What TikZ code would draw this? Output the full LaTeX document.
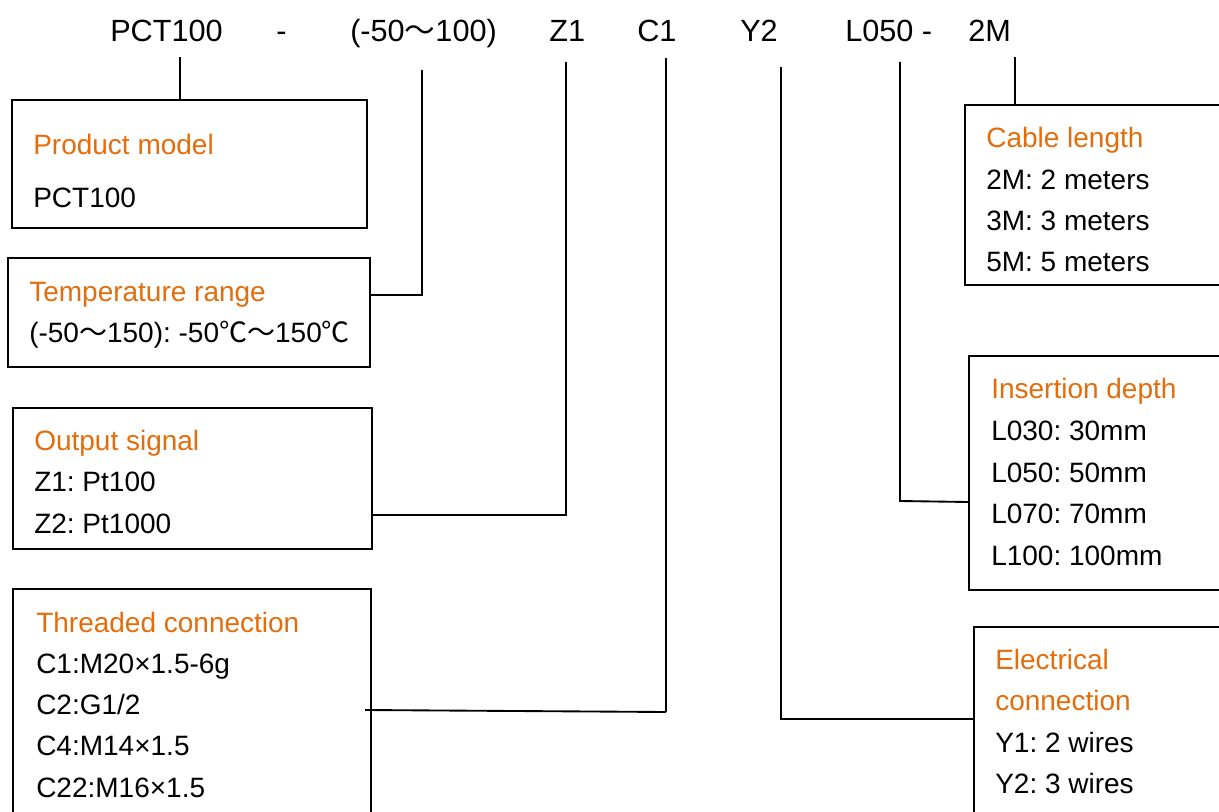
\documentclass[tikz,border=0pt]{standalone}
\usepackage{fontspec}
\setmainfont{Liberation Sans}
\newfontfamily\cjk{Noto Sans CJK SC}
\usetikzlibrary{fit}
\definecolor{headorange}{RGB}{228,108,10}
\newcommand{\tld}{{\cjk ～}}
\newcommand{\degc}{{\cjk ℃}}
\frenchspacing
\tikzset{
  code/.style={anchor=base west,inner sep=0pt,font=\fontsize{23}{28}\selectfont},
  box/.style={draw,line width=1.5pt,inner sep=0pt},
  head/.style={anchor=base west,inner sep=0pt,text=headorange,font=\fontsize{21}{25}\selectfont},
  item/.style={anchor=base west,inner sep=0pt,font=\fontsize{21}{25}\selectfont},
  lead/.style={line width=2.2pt},
  thinlead/.style={line width=1.4pt}
}
\begin{document}
\begin{tikzpicture}[x=0.75pt,y=-0.75pt]
  \useasboundingbox (0,0) rectangle (1219,812);
  \clip (0,0) rectangle (1219,812);
  % order code
  \node[code] (tModel)  at (110,42) {PCT100};
  \node[code] (tDash)   at (276,42) {-};
  \node[code] (tRange)  at (350,42) {(-50\tld 100)};
  \node[code] (tSignal) at (549,42) {Z1};
  \node[code] (tThread) at (637,42) {C1};
  \node[code] (tElec)   at (740,42) {Y2};
  \node[code] (tDepth)  at (845,42) {L050 -};
  \node[code] (tCable)  at (968,42) {2M};
  % boxes
  \node[box,fit={(12,100) (367,228)}]   (model)  {};
  \node[box,fit={(8,258) (370,367)}]    (range)  {};
  \node[box,fit={(13,408) (372,549)}]   (signal) {};
  \node[box,fit={(13,589) (371,830)}]   (thread) {};
  \node[box,fit={(965,105) (1240,285)}] (cable)  {};
  \node[box,fit={(969,356) (1240,590)}] (depth)  {};
  \node[box,fit={(974,627) (1240,830)}] (elec)   {};
  % box texts, left side
  \node[head] (modelHead) at (33,155) {Product model};
  \node[item] (model1) at (33,208) {PCT100};
  \node[head] (rangeHead) at (29,302) {Temperature range};
  \node[item] (range1) at (29,343) {(-50\tld 150): -50\degc\tld 150\degc};
  \node[head] (signalHead) at (34,450) {Output signal};
  \foreach \t [count=\i] in {Z1: Pt100, Z2: Pt1000}
    \node[item] (signal\i) at (34,450+41.5*\i) {\t};
  \node[head] (threadHead) at (36,632) {Threaded connection};
  \foreach \t [count=\i] in {C1:M20×1.5-6g, C2:G1/2, C4:M14×1.5, C22:M16×1.5}
    \node[item] (thread\i) at (36,632+41.3*\i) {\t};
  % box texts, right side
  \node[head] (cableHead) at (986,148) {Cable length};
  \foreach \t [count=\i] in {2M: 2 meters, 3M: 3 meters, 5M: 5 meters}
    \node[item] (cable\i) at (986,148+41.3*\i) {\t};
  \node[head] (depthHead) at (991,398) {Insertion depth};
  \foreach \t [count=\i] in {L030: 30mm, L050: 50mm, L070: 70mm, L100: 100mm}
    \node[item] (depth\i) at (991,399+41.5*\i) {\t};
  \node[head] (elecHead1) at (995,669) {Electrical};
  \node[head] (elecHead2) at (995,710) {connection};
  \node[item] (elec1) at (995,752) {Y1: 2 wires};
  \node[item] (elec2) at (995,793) {Y2: 3 wires};
  % leaders
  \coordinate (mTop) at (180,57);
  \draw[lead] (mTop) -- (model.north -| mTop);
  \coordinate (rTop) at (422,70);
  \coordinate (rBend) at (422,295);
  \draw[lead] (rTop) -- (rBend) -- (rBend -| range.east);
  \coordinate (sTop) at (566,62);
  \coordinate (sBend) at (566,515);
  \draw[thinlead] (sTop) -- (sBend) -- (sBend -| signal.east);
  \coordinate (cTop) at (666,58);
  \coordinate (cBend) at (666,712);
  \coordinate (cEnd) at (365,710);
  \draw[lead] (cTop) -- (cBend);
  \draw[thinlead] (cBend) -- (cEnd);
  \coordinate (eTop) at (781,67);
  \coordinate (eBend) at (781,719);
  \draw[lead] (eTop) -- (eBend) -- (eBend -| elec.west);
  \coordinate (dTop) at (900,62);
  \coordinate (dBend) at (900,501);
  \draw[thinlead] (dTop) -- (dBend) -- (depth.west |- 0,502);
  \coordinate (lTop) at (1015,57);
  \draw[lead] (lTop) -- (cable.north -| lTop);
\end{tikzpicture}
\end{document}
